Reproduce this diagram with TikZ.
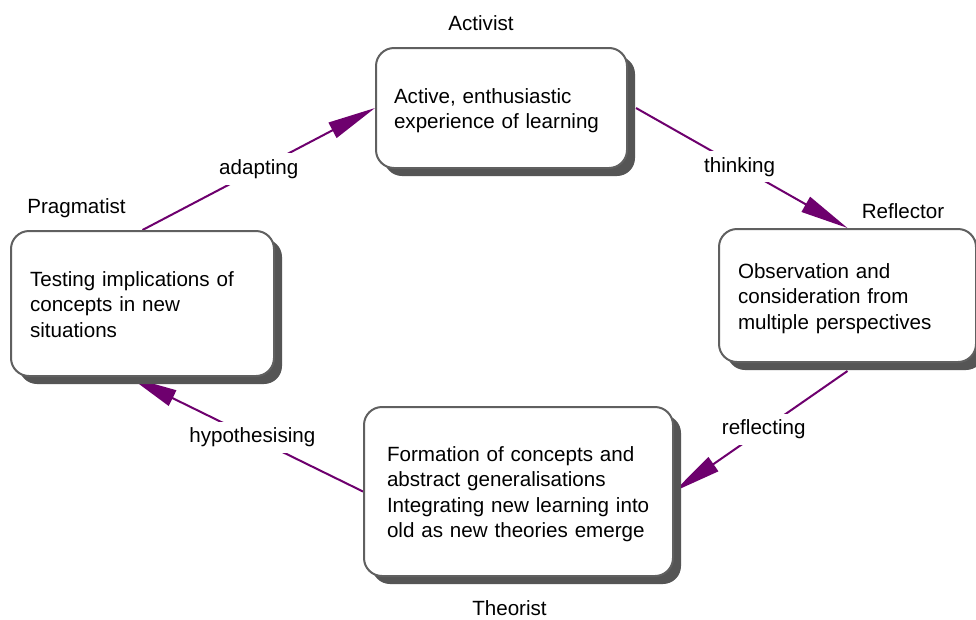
\documentclass[tikz,border=0pt]{standalone}
\usepackage{fontspec}
\setmainfont{Liberation Sans}
\usetikzlibrary{arrows.meta,shadows,calc}

\definecolor{linkpurple}{RGB}{110,0,110}
\definecolor{boxedge}{RGB}{96,96,96}
\definecolor{shadowgray}{RGB}{85,85,85}

\pgfdeclarelayer{background}
\pgfsetlayers{background,main}

\begin{document}
\begin{tikzpicture}[x=1pt,y=-1pt,
  every node/.style={font=\fontsize{20.6}{25.5}\selectfont, text=black},
  stagebox/.style={draw=boxedge, line width=2pt, fill=white,
    rounded corners=18pt, align=left, inner ysep=0pt, anchor=north west,
    execute at begin node={\rule{0pt}{21pt}},
    execute at end node={\rule[-4.6pt]{0pt}{0pt}},
    drop shadow={shadow xshift=8pt, shadow yshift=-8pt,
      fill=shadowgray, opacity=1}},
  stagename/.style={anchor=base, inner sep=0pt},
  link/.style={draw=linkpurple, line width=2pt,
    -{Triangle[length=48pt, width=17pt]}},
  linklabel/.style={fill=white, inner xsep=4pt, inner ysep=6pt}]

\useasboundingbox (0,0) rectangle (976,619);

% the four stages of the learning cycle
\node[stagebox, inner xsep=18pt, text width=215pt, minimum width=251pt,
      minimum height=120pt] (act) at (375,47)
  {\mbox{Active, enthusiastic}\\\mbox{experience of learning}};
\node[stagebox, inner xsep=19pt, text width=219pt, minimum width=257pt,
      minimum height=133pt] (refl) at (718,228)
  {\mbox{Observation and}\\\mbox{consideration from}\\\mbox{multiple perspectives}};
\node[stagebox, inner xsep=19pt, text width=225pt, minimum width=263pt,
      minimum height=145pt] (prag) at (10,230)
  {\mbox{Testing implications of}\\\mbox{concepts in new}\\\mbox{situations}};
\node[stagebox, inner xsep=23pt, text width=263pt, minimum width=309pt,
      minimum height=169pt] (theo) at (363,406)
  {\mbox{Formation of concepts and}\\\mbox{abstract generalisations}\\
   \mbox{Integrating new learning into}\\\mbox{old as new theories emerge}};

% learner styles
\node[stagename] (actname)  at (481,30)    {Activist};
\node[stagename] (reflname) at (903,218)   {Reflector};
\node[stagename] (pragname) at (76.5,213)  {Pragmatist};
\node[stagename] (theoname) at (509.5,615) {Theorist};

% connectors run beneath the boxes and their shadows
\begin{pgfonlayer}{background}
  \fill[white] (0,0) rectangle (976,619);
  \draw[link] (prag.north) -- (act.west)
    node[linklabel, midway] (adapt) {adapting};
  \draw[link] ([xshift=8pt]act.east) -- (refl.north)
    node[linklabel, pos=0.49] (think) {thinking};
  \draw[link] ([yshift=-8pt]refl.south) -- (theo.east)
    node[linklabel, pos=0.483] (reflect) {reflecting};
  \draw[link] (theo.west) -- ([xshift=-13pt]prag.south)
    node[linklabel, pos=0.474] (hypo) {hypothesising};
\end{pgfonlayer}
\end{tikzpicture}
\end{document}
